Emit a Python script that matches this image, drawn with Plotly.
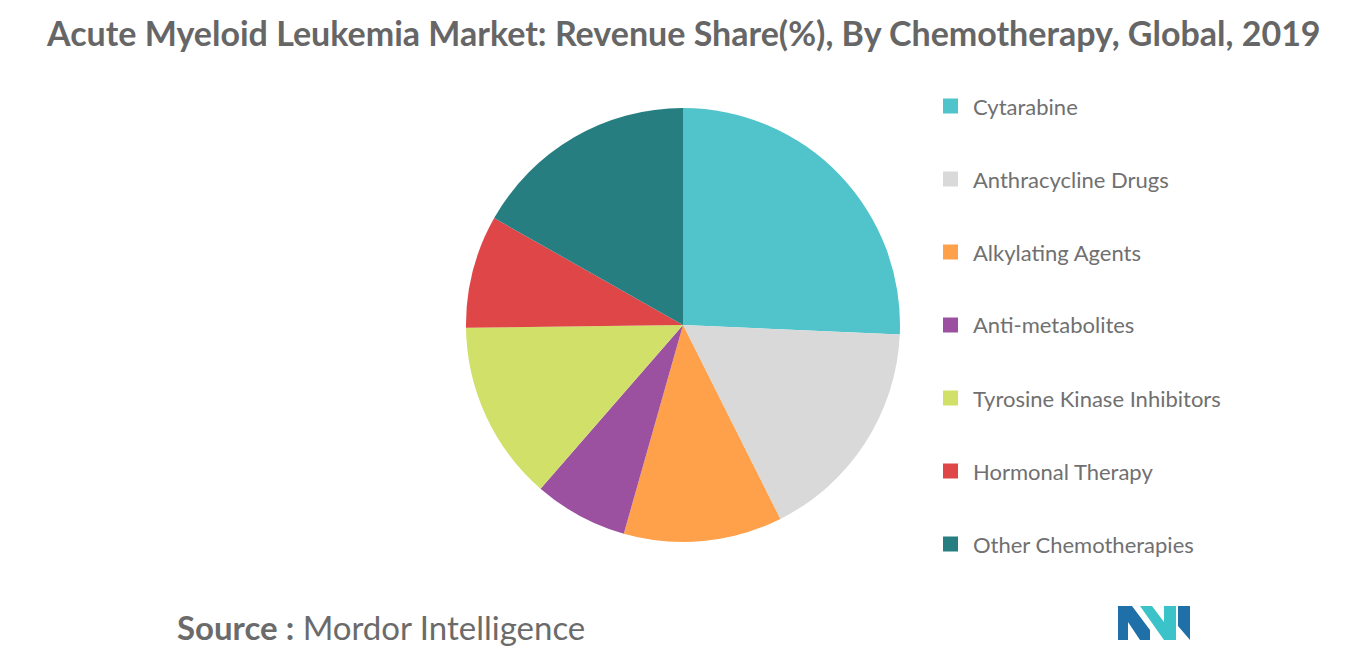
import plotly.graph_objects as go

labels = ["Cytarabine", "Anthracycline Drugs", "Alkylating Agents", "Anti-metabolites",
          "Tyrosine Kinase Inhibitors", "Hormonal Therapy", "Other Chemotherapies"]
shares = [25.7, 16.9, 11.8, 7.0, 13.4, 8.4, 16.8]
colors = ["#50C4CA", "#D9D9D9", "#FFA04A", "#9B51A0", "#D1E068", "#DE4648", "#267E81"]

W, H = 1366, 655
OFF = 8  # page body margin offset


def px(x, y):
    return (x - OFF) / W, 1 - (y - OFF) / H


fig = go.Figure(go.Pie(
    labels=labels, values=shares, sort=False, direction="clockwise", rotation=0,
    marker=dict(colors=colors, line=dict(width=0)),
    textinfo="none", hoverinfo="label+percent", showlegend=False,
    domain=dict(x=[px(466, 0)[0], px(900, 0)[0]], y=[px(0, 542)[1], px(0, 108)[1]]),
))

# legend drawn by hand to get the wide spacing
shapes = []
annotations = []
for i, (lab, col) in enumerate(zip(labels, colors)):
    yc = 106 + i * 73
    x0, y0 = px(943, yc + 7.5)
    x1, y1 = px(958, yc - 7.5)
    shapes.append(dict(type="rect", xref="paper", yref="paper", x0=x0, x1=x1, y0=y0, y1=y1,
                       fillcolor=col, line=dict(width=0)))
    tx, ty = px(971, yc)
    annotations.append(dict(text=lab, x=tx, y=ty, xref="paper", yref="paper",
                            xanchor="left", yanchor="middle", showarrow=False,
                            font=dict(size=22, color="#707070", family="Lato")))

tx, ty = px(683, 33)
annotations.append(dict(text="<b>Acute Myeloid Leukemia Market: Revenue Share(%), By Chemotherapy, Global, 2019</b>",
                        x=tx, y=ty, xref="paper", yref="paper", showarrow=False,
                        xanchor="center", yanchor="middle",
                        font=dict(size=34, color="#666666", family="Lato")))
tx, ty = px(175, 627)
annotations.append(dict(text="<b>Source :</b> Mordor Intelligence",
                        x=tx, y=ty, xref="paper", yref="paper", showarrow=False,
                        xanchor="left", yanchor="middle",
                        font=dict(size=33, color="#6b6b6b", family="Lato")))


def path(points):
    return "M" + " L".join("%f,%f" % px(x, y) for x, y in points) + " Z"


# logo
shapes.append(dict(type="path", xref="paper", yref="paper", fillcolor="#1F6FA8", line=dict(width=0),
                   path=path([(1118, 640), (1118, 606), (1132, 606), (1150, 630), (1150, 640),
                              (1140, 640), (1128, 622), (1128, 640)])))
shapes.append(dict(type="path", xref="paper", yref="paper", fillcolor="#3CC3C9", line=dict(width=0),
                   path=path([(1140, 606), (1152, 606), (1164, 622), (1164, 606), (1176, 606),
                              (1176, 640), (1164, 640)])))
shapes.append(dict(type="path", xref="paper", yref="paper", fillcolor="#1F6FA8", line=dict(width=0),
                   path=path([(1178, 606), (1190, 606), (1190, 640), (1178, 626)])))

fig.update_layout(
    width=W, height=H, margin=dict(l=0, r=0, t=0, b=0),
    paper_bgcolor="white", plot_bgcolor="white",
    shapes=shapes, annotations=annotations,
)

fig.write_html("out.html")
